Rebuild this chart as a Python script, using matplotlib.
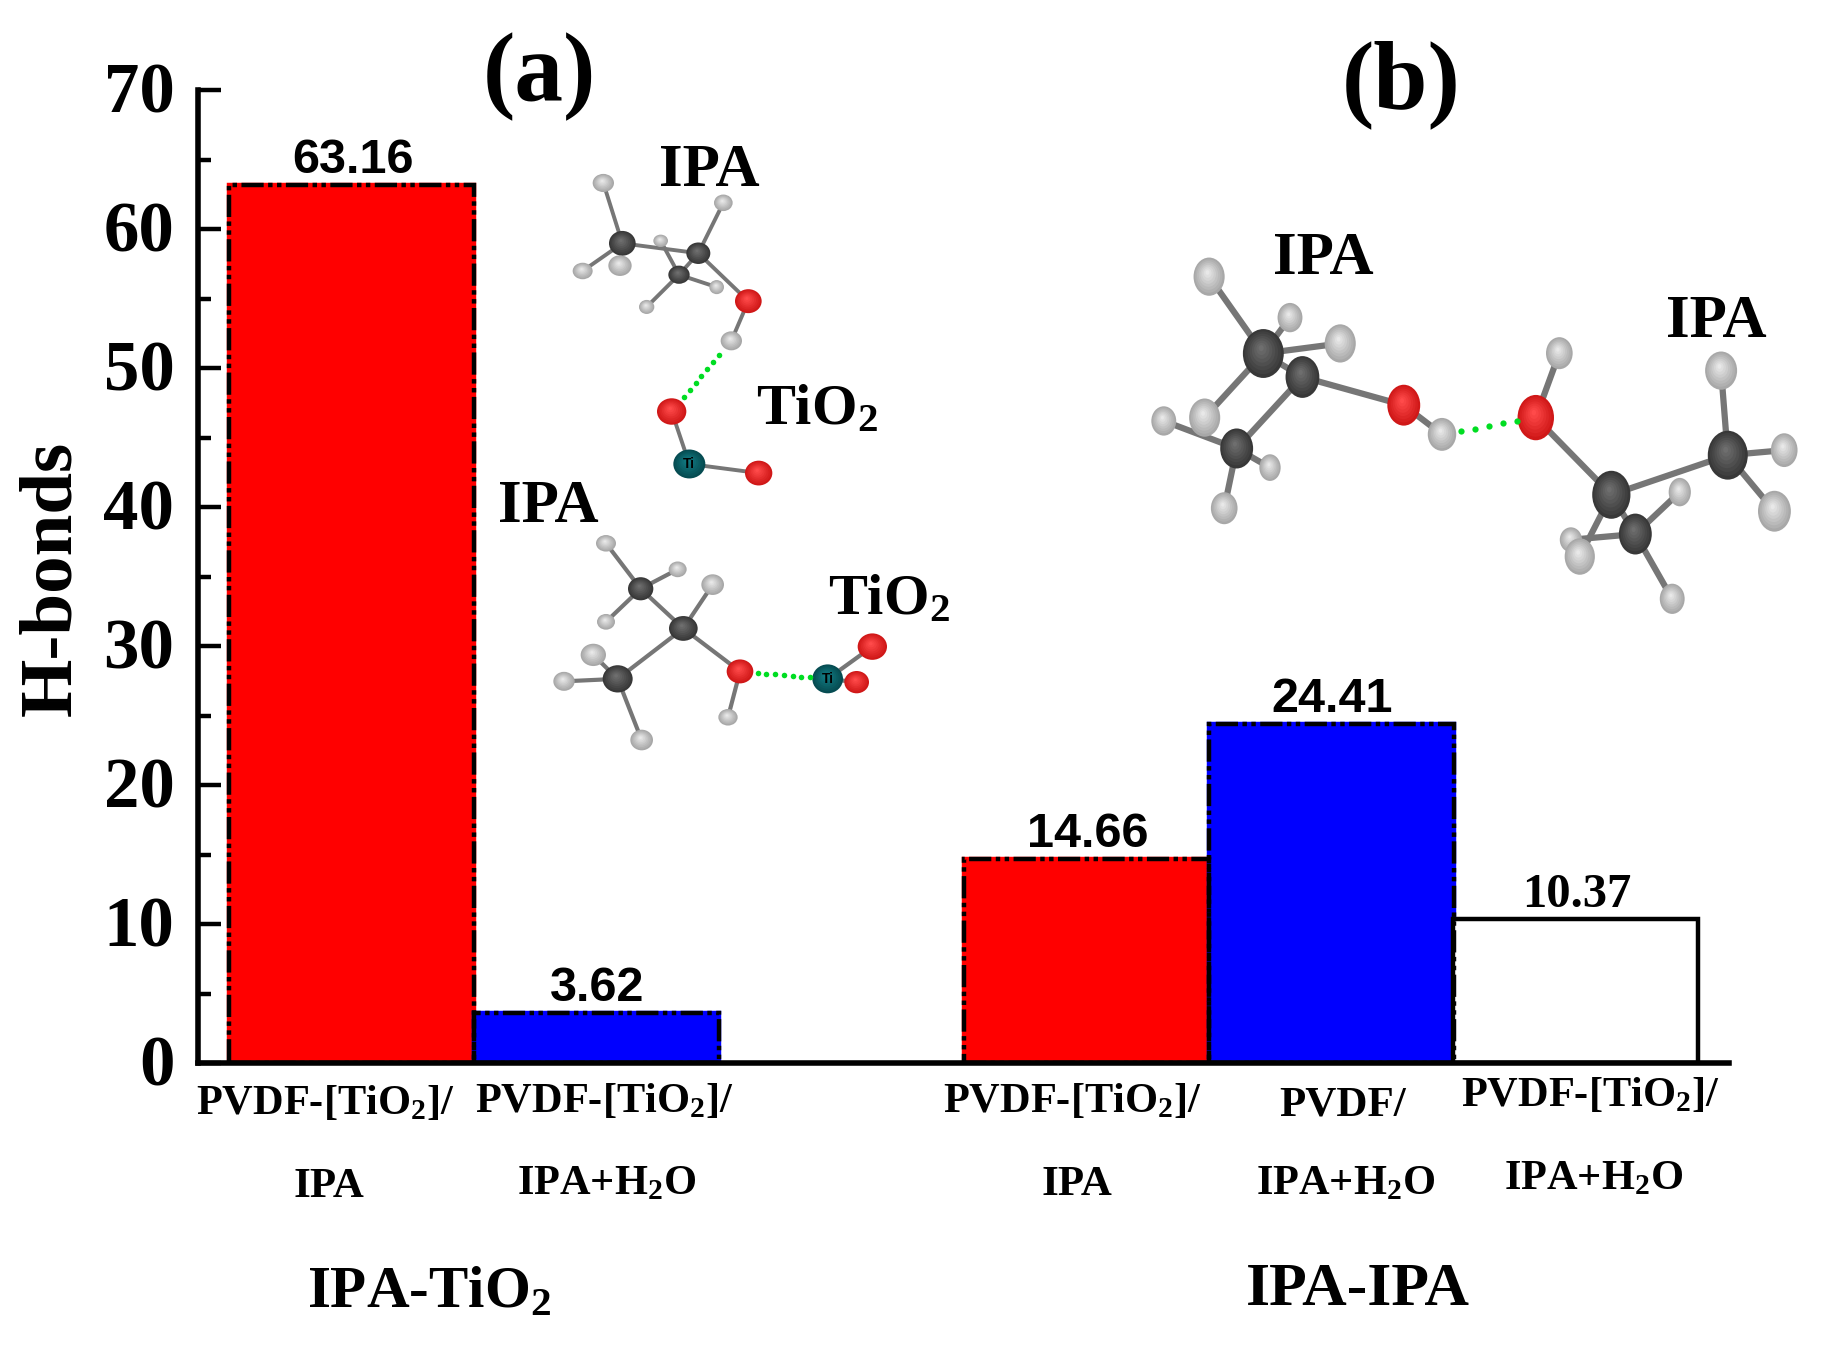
import matplotlib
matplotlib.use("Agg")
import matplotlib.pyplot as plt
from matplotlib.patches import Ellipse
from matplotlib.transforms import ScaledTranslation

plt.rcParams['font.family'] = ['Liberation Serif', 'DejaVu Serif']
plt.rcParams['font.weight'] = 'bold'
plt.rcParams['mathtext.fontset'] = 'custom'
plt.rcParams['mathtext.bf'] = 'Liberation Serif:bold'
plt.rcParams['mathtext.rm'] = 'Liberation Serif:bold'
plt.rcParams['mathtext.default'] = 'bf'

# bars
bar_pos = [1, 2, 4, 5, 6]
bar_values = [63.16, 3.62, 14.66, 24.41, 10.37]
bar_labels = ['63.16', '3.62', '14.66', '24.41', '10.37']
bar_colors = ['#ff0000', '#0000ff', '#ff0000', '#0000ff', '#ffffff']
label_fonts = ['Liberation Sans', 'Liberation Sans', 'Liberation Sans', 'Liberation Sans', 'Liberation Serif']

y_ticks = [0, 10, 20, 30, 40, 50, 60, 70]
y_minor = [5, 15, 25, 35, 45, 55, 65]

TIO = r'PVDF-[TiO$_2$]/'
IH = r'IPA+H$_2$O'
# text in full picture pixels: text, x, y, size
cat_text = [(TIO, 325, 1104, 30.5), ('IPA', 329, 1187, 31),
            (TIO, 604, 1101, 30.5), (IH, 607, 1184, 30.5),
            (TIO, 1072, 1101, 30.5), ('IPA', 1077, 1185, 31),
            ('PVDF/', 1343, 1106, 31), (IH, 1346, 1184, 30.5),
            (TIO, 1590, 1096, 30.5), (IH, 1594, 1179, 30.5)]
other_text = [(r'IPA-TiO$_2$', 429, 1294, 42.5), ('IPA-IPA', 1358, 1290, 44.5),
              ('(a)', 539, 77, 70), ('(b)', 1401, 85, 70),
              ('IPA', 709, 171, 44), (r'TiO$_2$', 817, 410, 42),
              ('IPA', 548, 507, 44), (r'TiO$_2$', 889, 600, 42),
              ('IPA', 1323, 259, 44), ('IPA', 1716, 322, 44)]

# molecules: kind, x, y, rx, ry as read in the zoomed crops
mol1 = [('H', 220, 150, 32, 22), ('C', 277, 296, 40, 30), ('H', 158, 363, 30, 20),
        ('H', 270, 350, 35, 25), ('H', 392, 290, 22, 15), ('C', 447, 372, 32, 22),
        ('C', 505, 320, 36, 26), ('H', 580, 198, 28, 20), ('H', 560, 402, 22, 17),
        ('H', 350, 450, 23, 17), ('O', 655, 436, 40, 29), ('H', 604, 532, 32, 23),
        ('O', 425, 703, 44, 32), ('Ti', 478, 830, 48, 35), ('O', 686, 852, 41, 30)]
mol1_bonds = [(0, 1), (1, 2), (1, 3), (1, 6), (6, 7), (6, 10), (6, 5), (5, 4), (5, 8), (5, 9),
              (10, 11), (12, 13), (13, 14)]
mol1_hb = (11, 12)

mol2 = [('H', 228, 1022, 30, 20), ('C', 332, 1132, 38, 28), ('H', 443, 1085, 27, 19),
        ('H', 228, 1212, 27, 19), ('C', 460, 1228, 43, 30), ('H', 548, 1122, 34, 25),
        ('H', 190, 1292, 38, 27), ('C', 263, 1350, 45, 33), ('H', 102, 1356, 32, 23),
        ('H', 335, 1498, 34, 25), ('O', 630, 1332, 40, 29), ('H', 594, 1443, 29, 20),
        ('O', 1027, 1272, 44, 32), ('O', 980, 1358, 37, 27), ('Ti', 893, 1350, 46, 35)]
mol2_bonds = [(0, 1), (1, 2), (1, 3), (1, 4), (4, 5), (4, 7), (4, 10), (7, 6), (7, 8), (7, 9),
              (10, 11), (14, 12), (14, 13)]
mol2_hb = (10, 14)

mol3 = [('H', 178, 148, 35, 43), ('H', 360, 270, 28, 33), ('H', 473, 347, 35, 43),
        ('H', 168, 568, 35, 43), ('H', 76, 578, 28, 33), ('H', 315, 717, 24, 30),
        ('C', 240, 660, 37, 45), ('H', 212, 838, 30, 36), ('C', 388, 447, 38, 47),
        ('C', 300, 377, 46, 55), ('O', 616, 531, 37, 46), ('H', 702, 618, 32, 37),
        ('H', 966, 376, 30, 36), ('O', 913, 568, 41, 51), ('H', 1330, 428, 36, 43),
        ('H', 1472, 665, 30, 38), ('H', 1450, 847, 37, 46), ('C', 1345, 680, 45, 55),
        ('H', 1237, 790, 25, 32), ('H', 992, 932, 25, 28), ('H', 1012, 982, 34, 41),
        ('H', 1220, 1108, 28, 34), ('C', 1137, 915, 37, 46), ('C', 1083, 798, 43, 54)]
mol3_bonds = [(9, 0), (9, 1), (9, 2), (9, 8), (9, 3), (8, 6), (8, 10), (10, 11), (6, 4), (6, 5), (6, 7),
              (13, 12), (13, 23), (23, 17), (17, 14), (17, 15), (17, 16), (23, 22), (22, 18),
              (22, 19), (23, 20), (22, 21)]
mol3_hb = (11, 13)

atom_colors = {'H': ('#a8a8a8', '#e8e8e8'), 'C': ('#383838', '#6e6e6e'),
               'O': ('#d01818', '#ff4a4a'), 'Ti': ('#064c52', '#127c84')}

W, H = 1825, 1360
left, right, top, bottom = 198, 1729, 90, 1063
unit = 244.9
first_edge = 229

fig = plt.figure(figsize=(W / 100, H / 100), dpi=100)
ax = fig.add_axes([left / W, 1 - bottom / H, (right - left) / W, (bottom - top) / H])

for x, v, c in zip(bar_pos, bar_values, bar_colors):
    if c == '#ffffff':
        ax.bar(x, v, width=1, color=c, edgecolor='black', linewidth=3.2, zorder=2)
    else:
        # gaps of the dashes show the bar colour, not the white page
        ax.bar(x, v, width=1, color=c, edgecolor=c, linewidth=3.2, zorder=2)
        ax.bar(x, v, width=1, color='none', edgecolor='black', linewidth=3.2,
               linestyle=(0, (5, 1, 1, 1, 1, 1)), zorder=2.5)
for x, v, t, f in zip(bar_pos, bar_values, bar_labels, label_fonts):
    ax.annotate(t, (x + 0.005, v), xytext=(0, 1.5), textcoords='offset points', ha='center', va='bottom',
                fontsize=35, family=f, fontweight='bold')

ax.set_xlim(0.5 - (first_edge - left) / unit, 0.5 + (right - first_edge) / unit)
ax.set_ylim(0, 70)
ax.set_xticks([])
ax.set_yticks(y_ticks)
ax.set_yticks(y_minor, minor=True)
ax.tick_params(axis='y', which='major', direction='in', length=16.5, width=3.2, labelsize=51, pad=17)
ax.tick_params(axis='y', which='minor', direction='in', length=9, width=3.2)
shift = ScaledTranslation(0, 2.5 / 100, fig.dpi_scale_trans)
for lab in ax.get_yticklabels():
    lab.set_transform(lab.get_transform() + shift)
for s in ['top', 'right']:
    ax.spines[s].set_visible(False)
for s in ['left', 'bottom']:
    ax.spines[s].set_linewidth(4)
ax.set_ylabel('H-bonds', fontsize=54, fontweight='bold', va='center')
ax.yaxis.set_label_coords((52 - left) / (right - left), 0.498)

over = fig.add_axes([0, 0, 1, 1], facecolor='none')
over.set_xlim(0, W)
over.set_ylim(H, 0)
over.axis('off')


def draw_mol(atoms, bonds, hb, ox, oy, sx, sy, ball, lw, dot, n):
    pts = [(ox + a[1] / sx, oy + a[2] / sy) for a in atoms]
    for i, j in bonds:
        over.plot([pts[i][0], pts[j][0]], [pts[i][1], pts[j][1]], color='#767676', lw=lw,
                  solid_capstyle='butt', zorder=3)
    for (kind, _, _, rx, ry), (x, y) in zip(atoms, pts):
        rx, ry = rx / sx, ry / ball
        edge, mid = atom_colors[kind]
        steps = 8
        for k in range(steps):
            f = 1 - k / steps
            col = [int(edge[m:m + 2], 16) + (int(mid[m:m + 2], 16) - int(edge[m:m + 2], 16)) * k / (steps - 1)
                   for m in (1, 3, 5)]
            over.add_patch(Ellipse((x - rx * 0.12 * (1 - f), y - ry * 0.25 * (1 - f)), 2 * rx * f, 2 * ry * f,
                                   color=[c / 255 for c in col], lw=0, zorder=4))
        if kind == 'Ti':
            over.text(x, y, 'Ti', family='Liberation Sans', fontsize=10, fontweight='bold',
                      ha='center', va='center', zorder=5)
    a, b = pts[hb[0]], pts[hb[1]]
    xs = [a[0] + (b[0] - a[0]) * (0.2 + 0.6 * k / (n - 1)) for k in range(n)]
    ys = [a[1] + (b[1] - a[1]) * (0.2 + 0.6 * k / (n - 1)) for k in range(n)]
    over.plot(xs, ys, ls='none', marker='o', ms=dot, color='#00dd22', mew=0, zorder=5)


draw_mol(mol1, mol1_bonds, mol1_hb, 530, 121, 3, 2.42, 2.42, 2.8, 4, 7)
draw_mol(mol2, mol2_bonds, mol2_hb, 530, 121, 3, 2.42, 2.42, 3, 4, 7)
draw_mol(mol3, mol3_bonds, mol3_hb, 1130, 227, 2.25, 2.98, 2.25, 4.5, 4.5, 5)

for t, x, y, s in cat_text + other_text:
    over.text(x, y, t, fontsize=s, fontweight='bold', ha='center', va='center', zorder=6)

fig.savefig('out.png', dpi=100)
